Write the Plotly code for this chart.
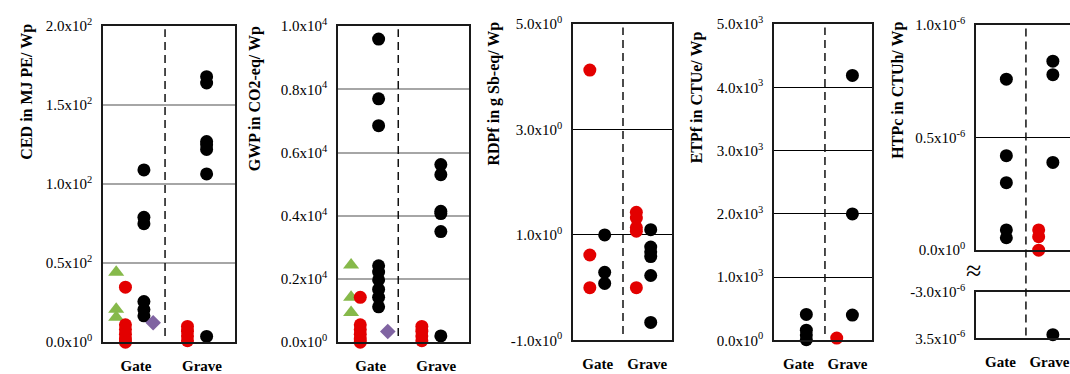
import plotly.graph_objects as go

# ---------------- data ----------------
categories = ["Gate", "Grave"]

# CED in MJ PE/Wp
ced_gate_black = [109, 79, 75, 25.7, 20.7, 16.7]
ced_gate_red = [34.8, 11, 8, 5, 2, 0]
ced_gate_green = [44.3, 20.8, 15.8]
ced_gate_purple = [12.3]
ced_grave_black = [168, 164, 127, 125, 122, 106.5, 3.7]
ced_grave_red = [10, 7, 4, 1]

# GWP in CO2-eq/Wp
gwp_gate_black = [9590, 7700, 6850, 2420, 2220, 1970, 1670, 1420, 1120]
gwp_gate_red = [1420, 550, 400, 250, 100, 0]
gwp_gate_green = [2440, 1420, 940]
gwp_gate_purple = [340]
gwp_grave_black = [5620, 5300, 4140, 4070, 3500, 200]
gwp_grave_red = [500, 350, 200, 50]

# RDPf in g Sb-eq/Wp
rdp_gate_black = [1.0, 0.29, 0.08]
rdp_gate_red = [4.13, 0.62, 0.0]
rdp_grave_black = [1.10, 0.77, 0.68, 0.59, 0.23, -0.66]
rdp_grave_red = [1.43, 1.32, 1.14, 1.07, 0.0]

# ETPf in CTUe/Wp
etp_gate_black = [410, 160, 85, 10]
etp_grave_black = [4190, 2000, 400]
etp_grave_red = [35]

# HTPc in CTUh/Wp
htp_gate_black = [0.76e-6, 0.42e-6, 0.30e-6, 0.09e-6, 0.055e-6]
htp_grave_black = [0.84e-6, 0.78e-6, 0.39e-6, -3.46e-6]
htp_grave_red = [0.09e-6, 0.06e-6, 0.0]

# tick labels
ced_ticks = [0, 50, 100, 150, 200]
ced_ticktext = ["0.0x10<sup>0</sup>", "0.5x10<sup>2</sup>", "1.0x10<sup>2</sup>",
                "1.5x10<sup>2</sup>", "2.0x10<sup>2</sup>"]
gwp_ticks = [0, 2000, 4000, 6000, 8000, 10000]
gwp_ticktext = ["0.0x10<sup>0</sup>", "0.2x10<sup>4</sup>", "0.4x10<sup>4</sup>",
                "0.6x10<sup>4</sup>", "0.8x10<sup>4</sup>", "1.0x10<sup>4</sup>"]
rdp_ticks = [-1, 1, 3, 5]
rdp_ticktext = ["-1.0x10<sup>0</sup>", "1.0x10<sup>0</sup>", "3.0x10<sup>0</sup>",
                "5.0x10<sup>0</sup>"]
etp_ticks = [0, 1000, 2000, 3000, 4000, 5000]
etp_ticktext = ["0.0x10<sup>0</sup>", "1.0x10<sup>3</sup>", "2.0x10<sup>3</sup>",
                "3.0x10<sup>3</sup>", "4.0x10<sup>3</sup>", "5.0x10<sup>3</sup>"]
htp_up_ticks = [0, 0.5e-6, 1.0e-6]
htp_up_ticktext = ["0.0x10<sup>0</sup>", "0.5x10<sup>-6</sup>", "1.0x10<sup>-6</sup>"]
htp_lo_ticks = [-3.5e-6, -3.0e-6]
htp_lo_ticktext = ["3.5x10<sup>-6</sup>", "-3.0x10<sup>-6</sup>"]

titles = ["CED in MJ PE/ Wp", "GWP in CO2-eq/ Wp", "RDPf in g Sb-eq/ Wp",
          "ETPf in CTUe/ Wp", "HTPc in CTUh/ Wp"]

# ---------------- styling ----------------
W, H = 1070, 374
SERIF = "Liberation Serif"
BLACK = "#000000"
RED = "#e30000"
GREEN = "#86b94a"
PURPLE = "#8064a2"

OFF = {"green": -0.30, "red": -0.16, "black": 0.12, "purple": 0.26,
       "grave_red": -0.22, "grave_black": 0.07}

def px_x(a, b):
    return [a / W, b / W]

def px_y(top, bottom):
    return [1 - bottom / H, 1 - top / H]

fig = go.Figure()

def add_pts(vals, cat, off, color, symbol, size, xa, ya, lo=None, hi=None):
    v = [val for val in vals if (lo is None or val >= lo) and (hi is None or val <= hi)]
    if not v:
        return
    x = [categories.index(cat) + off] * len(v)
    fig.add_trace(go.Scatter(
        x=x, y=v, mode="markers", xaxis=xa, yaxis=ya, cliponaxis=False,
        showlegend=False, hoverinfo="y",
        marker=dict(color=color, symbol=symbol, size=size, line=dict(width=0))))

DOT = 13
# Panel 1 CED
add_pts(ced_gate_green, "Gate", OFF["green"], GREEN, "triangle-up", 14, "x", "y")
add_pts(ced_gate_red, "Gate", OFF["red"], RED, "circle", DOT, "x", "y")
add_pts(ced_gate_black, "Gate", OFF["black"], BLACK, "circle", DOT, "x", "y")
add_pts(ced_gate_purple, "Gate", OFF["purple"], PURPLE, "diamond", 12, "x", "y")
add_pts(ced_grave_red, "Grave", OFF["grave_red"], RED, "circle", DOT, "x", "y")
add_pts(ced_grave_black, "Grave", OFF["grave_black"], BLACK, "circle", DOT, "x", "y")
# Panel 2 GWP
add_pts(gwp_gate_green, "Gate", OFF["green"], GREEN, "triangle-up", 14, "x2", "y2")
add_pts(gwp_gate_red, "Gate", OFF["red"], RED, "circle", DOT, "x2", "y2")
add_pts(gwp_gate_black, "Gate", OFF["black"], BLACK, "circle", DOT, "x2", "y2")
add_pts(gwp_gate_purple, "Gate", OFF["purple"], PURPLE, "diamond", 12, "x2", "y2")
add_pts(gwp_grave_red, "Grave", OFF["grave_red"], RED, "circle", DOT, "x2", "y2")
add_pts(gwp_grave_black, "Grave", OFF["grave_black"], BLACK, "circle", DOT, "x2", "y2")
# Panel 3 RDPf
add_pts(rdp_gate_red, "Gate", OFF["red"], RED, "circle", DOT, "x3", "y3")
add_pts(rdp_gate_black, "Gate", OFF["black"] + 0.02, BLACK, "circle", DOT, "x3", "y3")
add_pts(rdp_grave_red, "Grave", OFF["grave_red"], RED, "circle", DOT, "x3", "y3")
add_pts(rdp_grave_black, "Grave", OFF["grave_black"], BLACK, "circle", DOT, "x3", "y3")
# Panel 4 ETPf
add_pts(etp_gate_black, "Gate", OFF["black"] + 0.04, BLACK, "circle", DOT, "x4", "y4")
add_pts(etp_grave_red, "Grave", OFF["grave_red"], RED, "circle", DOT, "x4", "y4")
add_pts(etp_grave_black, "Grave", OFF["grave_black"] + 0.03, BLACK, "circle", DOT, "x4", "y4")
# Panel 5 HTPc (broken axis: upper x5/y5, lower x6/y6)
add_pts(htp_gate_black, "Gate", OFF["black"], BLACK, "circle", DOT, "x5", "y5", lo=-0.05e-6)
add_pts(htp_grave_red, "Grave", OFF["grave_red"], RED, "circle", DOT, "x5", "y5", lo=-0.05e-6)
add_pts(htp_grave_black, "Grave", OFF["grave_black"], BLACK, "circle", DOT, "x5", "y5", lo=-0.05e-6)
add_pts(htp_gate_black, "Gate", OFF["black"], BLACK, "circle", DOT, "x6", "y6", hi=-2.9e-6)
add_pts(htp_grave_black, "Grave", OFF["grave_black"], BLACK, "circle", DOT, "x6", "y6", hi=-2.9e-6)

# ---------------- axes ----------------
panels = [
    ("xaxis", "yaxis", (103, 235), (17, 350), [0, 200], ced_ticks, ced_ticktext, "#a6a6a6", 1.5, True, [-0.5, 1.5]),
    ("xaxis2", "yaxis2", (338, 469), (17, 350), [0, 10000], gwp_ticks, gwp_ticktext, "#a6a6a6", 1.5, True, [-0.5, 1.5]),
    ("xaxis3", "yaxis3", (573, 672), (15, 348), [-1, 5], rdp_ticks, rdp_ticktext, "#000000", 1, True, [-0.5, 1.5]),
    ("xaxis4", "yaxis4", (774, 872), (15, 348), [0, 5000], etp_ticks, etp_ticktext, "#000000", 1, True, [-0.5, 1.5]),
    ("xaxis5", "yaxis5", (976, 1070), (16, 253), [0, 1.0e-6], htp_up_ticks, htp_up_ticktext, "#000000", 1, False, [-0.5, 1.42]),
    ("xaxis6", "yaxis6", (976, 1070), (297, 346), [-3.5e-6, -3.0e-6], htp_lo_ticks, htp_lo_ticktext, "#000000", 1, True, [-0.5, 1.42]),
]

layout = dict(width=W, height=H, margin=dict(l=0, r=0, t=0, b=0),
              paper_bgcolor="white", plot_bgcolor="white", showlegend=False,
              font=dict(family=SERIF))

for i, (xn, yn, xpx, ypx, yr, tv, tt, gc, gw, showx, xr) in enumerate(panels):
    anchor_y = "y" if i == 0 else "y%d" % (i + 1)
    anchor_x = "x" if i == 0 else "x%d" % (i + 1)
    layout[xn] = dict(domain=px_x(*xpx), range=xr, anchor=anchor_y,
                      tickvals=[0, 1], ticktext=["<b>%s</b>" % c for c in categories],
                      showticklabels=showx, showgrid=False, zeroline=False,
                      showline=True, mirror=True, linecolor="#1a1a1a", linewidth=1.5,
                      ticks="", ticklabelstandoff=9,
                      tickfont=dict(family=SERIF, size=15, color="#000"),
                      fixedrange=True)
    layout[yn] = dict(domain=px_y(*ypx), range=yr, anchor=anchor_x,
                      tickvals=tv, ticktext=tt, showgrid=True, gridcolor=gc, gridwidth=gw,
                      zeroline=False, showline=True, mirror=(i < 4), linecolor="#1a1a1a",
                      linewidth=1.5, ticks="", ticklabelstandoff=6,
                      tickfont=dict(family=SERIF, size=15, color="#000"),
                      fixedrange=True)

fig.update_layout(**layout)

# dashed separators
dash_x = [0.44, 0.42, 0.51, 0.54]
for i, dx in enumerate(dash_x):
    xr = "x" if i == 0 else "x%d" % (i + 1)
    yr = "y domain" if i == 0 else "y%d domain" % (i + 1)
    fig.add_shape(type="line", xref=xr, yref=yr, x0=dx, x1=dx, y0=0.02, y1=0.99,
                  line=dict(color="#111", width=1.5, dash="8px,5px"))
fig.add_shape(type="line", xref="x5", yref="paper", x0=0.52, x1=0.52,
              y0=1 - 343 / H, y1=1 - 16 / H,
              line=dict(color="#111", width=1.5, dash="8px,5px"))

# y-axis titles
title_pos = [(27, 86), (255, 94), (494, 88), (697, 92), (898, 85)]
for t, (tx, ty) in zip(titles, title_pos):
    fig.add_annotation(text="<b>%s</b>" % t, x=tx / W, y=1 - ty / H, xref="paper", yref="paper",
                       xanchor="center", yanchor="middle", textangle=-90, showarrow=False,
                       font=dict(family=SERIF, size=16, color="#000"))

# axis break symbol
fig.add_annotation(text="≈", x=973 / W, y=1 - 274 / H, xref="paper", yref="paper",
                   xanchor="center", yanchor="middle", showarrow=False,
                   font=dict(family=SERIF, size=28, color="#000"))

fig.write_html("out.html")
